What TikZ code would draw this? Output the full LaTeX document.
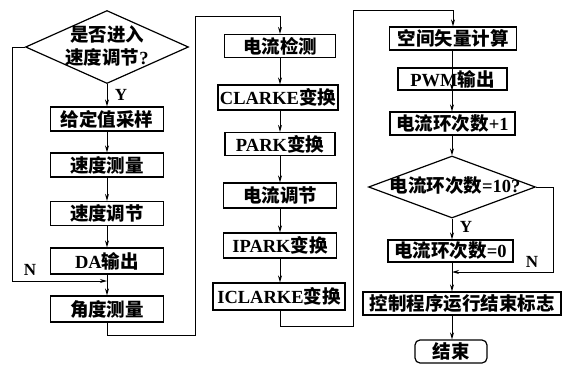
\documentclass[tikz,border=0pt]{standalone}
\usepackage{fontspec}
\setmainfont{Liberation Serif}
\newfontfamily\cjkf{Noto Sans CJK SC}
\usetikzlibrary{shapes.geometric,arrows.meta}
\newcommand\zh[1]{{\cjkf #1}}
\begin{document}
\begin{tikzpicture}[x=1pt,y=-1pt,
  fnt/.style={font=\fontsize{18.5}{23}\selectfont\bfseries},
  box/.style={draw, line width=1.2pt, minimum height=24pt, inner sep=0pt, fnt},
  dia/.style={draw, diamond, line width=1.2pt, inner sep=0pt},
  txt/.style={inner sep=0pt, fnt, align=center},
  lbl/.style={inner sep=0pt, font=\fontsize{17}{17}\selectfont\bfseries},
  ln/.style={line width=1pt},
  arr/.style={line width=1pt, -{Stealth[length=7pt,width=4pt]}}]
\useasboundingbox (0,0) rectangle (563,367);
% column 1
\node[dia, minimum width=163pt, minimum height=73pt] (d1) at (107,47) {};
\node[txt] (d1t) at (107,46) {\zh{是否进入}\\\zh{速度调节}?};
\node[box, minimum width=113pt] (a1) at (107,119) {\zh{给定值采样}};
\node[box, minimum width=113pt] (a2) at (107,165) {\zh{速度测量}};
\node[box, minimum width=113pt] (a3) at (107,213.5) {\zh{速度调节}};
\node[box, minimum width=113pt, minimum height=26pt] (a4) at (107,261) {DA\zh{输出}};
\node[box, minimum width=113pt, minimum height=26pt] (a5) at (107,309) {\zh{角度测量}};
\coordinate (j1) at (107,281);
\draw[arr] (d1.south) -- (a1.north);
\node[lbl] (y1) at (121,95) {Y};
\draw[arr] (a1) -- (a2);
\draw[arr] (a2) -- (a3);
\draw[arr] (a3) -- (a4);
\draw[arr] (a4) -- (a5);
\draw[arr] (d1.west) -- (12,47) |- (j1);
\node[lbl] (n1) at (30,270) {N};
% column 2
\node[box, minimum width=111pt, minimum height=23pt] (c1) at (280,46) {\zh{电流检测}};
\node[box, minimum width=120pt, minimum height=25pt] (c2) at (278,97.5) {CLARKE\zh{变换}};
\node[box, minimum width=110pt, minimum height=23pt] (c3) at (280,144) {PARK\zh{变换}};
\node[box, minimum width=113pt, minimum height=25pt] (c4) at (280,195.5) {\zh{电流调节}};
\node[box, minimum width=113pt, minimum height=25pt] (c5) at (280,245.5) {IPARK\zh{变换}};
\node[box, minimum width=132pt, minimum height=27pt] (c6) at (279,296.5) {ICLARKE\zh{变换}};
\draw[arr] (a5.south) |- (195,335) -- (195,16) -| (c1.north);
\draw[arr] (c1.south) -- (c1.south |- c2.north);
\draw[arr] (c2.south -| c1.south) -- (c3.north);
\draw[arr] (c3) -- (c4);
\draw[arr] (c4) -- (c5);
\draw[arr] (c5.south) -- (c5.south |- c6.north);
% column 3
\node[box, minimum width=127pt, minimum height=23pt] (e1) at (453,38.5) {\zh{空间矢量计算}};
\node[box, minimum width=109pt, minimum height=22pt] (e2) at (452.5,79) {PWM\zh{输出}};
\node[box, minimum width=125pt, minimum height=23pt] (e3) at (452.5,123.5) {\zh{电流环次数}+1};
\node[dia, minimum width=167pt, minimum height=62pt] (d2) at (452,187) {};
\node[txt] (d2t) at (455,186) {\zh{电流环次数}=10?};
\node[box, minimum width=125pt, minimum height=22pt] (e4) at (450.5,251) {\zh{电流环次数}=0};
\node[box, minimum width=198pt, minimum height=23pt] (e5) at (462,303.5) {\zh{控制程序运行结束标志}};
\node[box, minimum width=72pt, minimum height=23pt, rounded corners=5pt] (e6) at (451,351.5) {\zh{结束}};
\coordinate (j2) at (452,272);
\draw[arr] (c6.south -| c5.south) |- (353,326) -- (353,10) -| (e1.north);
\draw[arr] (e1.south -| d2.north) -- (e2.south -| d2.north) ;
\draw[arr] (e2.south -| d2.north) -- (e3.north -| d2.north);
\draw[arr] (e3.south -| d2.north) -- (d2.north);
\draw[arr] (d2.south) -- (d2.south |- e4.north);
\node[lbl] (y2) at (466,227) {Y};
\draw[arr] (d2.south |- e4.south) -- (d2.south |- e5.north);
\draw[arr] (d2.east) -- (553,187) |- (j2);
\node[lbl] (n2) at (532,262) {N};
\draw[arr] (d2.south |- e5.south) -- (d2.south |- e6.north);
\end{tikzpicture}
\end{document}
